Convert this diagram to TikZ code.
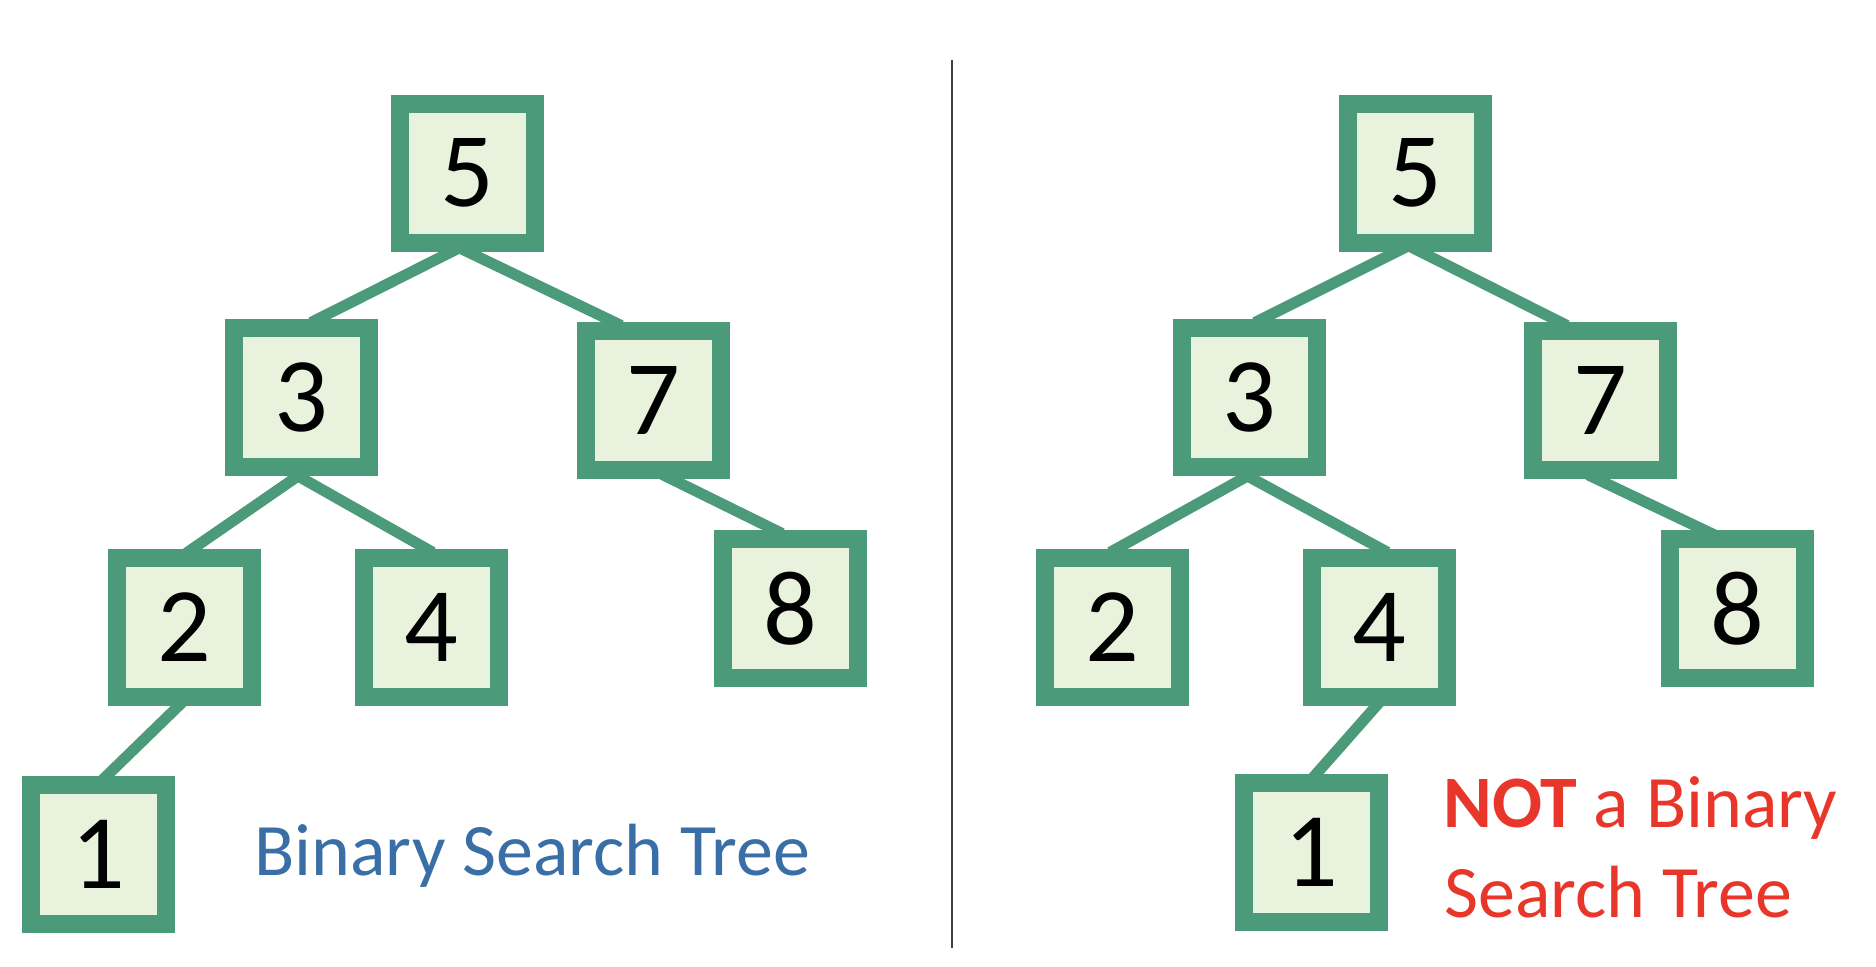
\documentclass[tikz,border=0pt]{standalone}
\usepackage{fontspec}
\setmainfont{Carlito}
\usetikzlibrary{backgrounds}
\definecolor{bord}{HTML}{4B9A7A}
\definecolor{fillg}{HTML}{E8F2DC}
\definecolor{bluet}{HTML}{3A6EA6}
\definecolor{redt}{HTML}{E8372A}
\definecolor{divc}{HTML}{404040}
\tikzset{
  tnode/.style={draw=bord, fill=fillg, line width=9pt, minimum width=67.5pt,
    minimum height=69.5pt, inner sep=0pt, font=\fontsize{53}{53}\selectfont},
  tedge/.style={draw=bord, line width=5.5pt, shorten <=-5pt, shorten >=-4pt},
  lbl/.style={anchor=base west, inner sep=0pt, font=\fontsize{37}{40}\selectfont}
}
\begin{document}
\begin{tikzpicture}[x=0.5pt,y=-0.5pt]
\useasboundingbox (0,0) rectangle (1876,966);
% divider
\coordinate (dtop) at (952,60);
\coordinate (dbot) at (952,948);
\draw[divc, line width=1pt] (dtop) -- (dbot);
% left tree
\node[tnode] (L5) at (467,173) {5};
\node[tnode] (L3) at (301,397.5) {3};
\node[tnode] (L7) at (653.5,400.5) {7};
\node[tnode] (L2) at (184,627) {2};
\node[tnode] (L4) at (431,627) {4};
\node[tnode] (L8) at (790,608.5) {8};
\node[tnode] (L1) at (98,854) {1};
% right tree
\node[tnode] (R5) at (1415,173) {5};
\node[tnode] (R3) at (1249,397.5) {3};
\node[tnode] (R7) at (1600,400.5) {7};
\node[tnode] (R2) at (1112,627) {2};
\node[tnode] (R4) at (1379,627) {4};
\node[tnode] (R8) at (1737,608.5) {8};
\node[tnode] (R1) at (1311,852) {1};
\begin{scope}[on background layer]
\draw[tedge] ([xshift=-7.5pt]L5.south) -- ([xshift=8.5pt]L3.north);
\draw[tedge] (L5.south) -- ([xshift=-19.75pt]L7.north);
\draw[tedge] ([xshift=-1.5pt]L3.south) -- ([xshift=4.5pt]L2.north);
\draw[tedge] ([xshift=-1.5pt]L3.south) -- ([xshift=-2.5pt]L4.north);
\draw[tedge] ([xshift=9pt]L7.south) -- ([xshift=-7.5pt]L8.north);
\draw[tedge] ([xshift=-2.5pt]L2.south) -- ([xshift=4.5pt]L1.north);
\draw[tedge] ([xshift=-9pt]R5.south) -- ([xshift=6.5pt]R3.north);
\draw[tedge] ([xshift=2.5pt]R5.south) -- ([xshift=-20pt]R7.north);
\draw[tedge] ([xshift=-0.75pt]R3.south) -- ([xshift=2.5pt]R2.north);
\draw[tedge] ([xshift=-0.75pt]R3.south) -- ([xshift=0.8pt]R4.north);
\draw[tedge] ([xshift=-1.6pt]R7.south) -- ([xshift=1.5pt,yshift=-8.5pt]R8.north);
\draw[tedge] ([xshift=-1.2pt]R4.south) -- ([xshift=2.8pt]R1.north);
\end{scope}
% labels
\node[lbl, text=bluet] (ltxt) at (254,875) {Binary Search Tree};
\node[lbl, text=redt] (rtxt1) at (1443,827) {\textbf{NOT} a Binary};
\node[lbl, text=redt] (rtxt2) at (1444,917) {Search Tree};
\end{tikzpicture}
\end{document}
